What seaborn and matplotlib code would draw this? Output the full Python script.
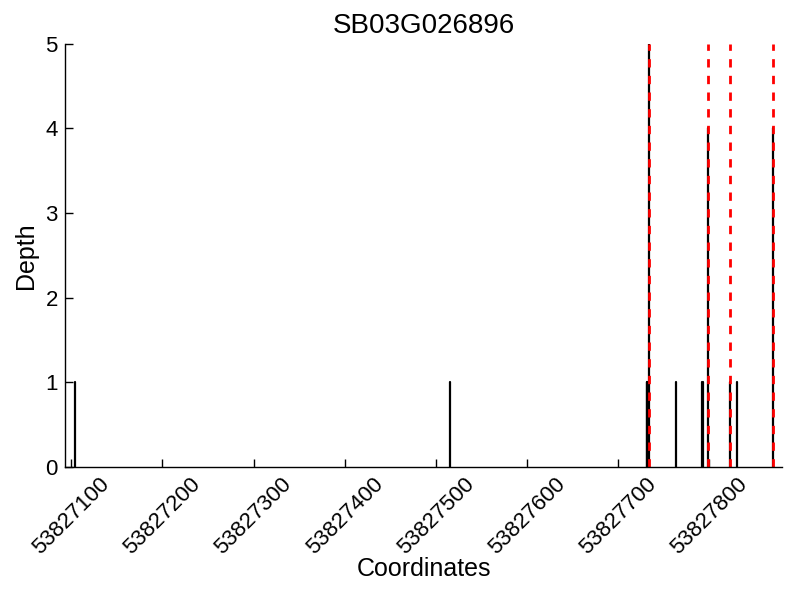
import matplotlib
matplotlib.use("Agg")
import matplotlib.pyplot as plt
import seaborn as sns
import numpy as np
import pandas as pd

# ---- data ----
title = "SB03G026896"
depth_positions = [53827104, 53827515, 53827731, 53827732, 53827734,
                   53827763, 53827792, 53827793, 53827798, 53827822,
                   53827830, 53827870]
depth_values = [1, 1, 1, 1, 5, 1, 1, 1, 4, 1, 1, 4]
snp_positions = [53827734, 53827798, 53827822, 53827870]
x_ticks = [53827100, 53827200, 53827300, 53827400, 53827500,
           53827600, 53827700, 53827800]
y_ticks = [0, 1, 2, 3, 4, 5]
x_range = (53827093, 53827880)
y_range = (0, 5)

sns.set_style("ticks", {"xtick.direction": "in", "ytick.direction": "in",
                        "text.color": "black", "axes.labelcolor": "black",
                        "xtick.color": "black", "ytick.color": "black"})
plt.rcParams["font.family"] = ["Liberation Sans", "DejaVu Sans"]

depth_df = pd.DataFrame({
    "pos": np.repeat(depth_positions, 2),
    "depth": np.ravel([[0, d] for d in depth_values]),
    "unit": np.repeat(np.arange(len(depth_positions)), 2),
})
snp_df = pd.DataFrame({
    "pos": np.repeat(snp_positions, 2),
    "depth": np.ravel([[y_range[0], y_range[1]] for _ in snp_positions]),
    "unit": np.repeat(np.arange(len(snp_positions)), 2),
})

fig = plt.figure(figsize=(8, 6), dpi=100)
ax = fig.add_axes([0.081, 0.222, 0.897, 0.705])

sns.lineplot(data=depth_df, x="pos", y="depth", units="unit", estimator=None,
             sort=False, color="black", linewidth=1.6, legend=False, ax=ax)
sns.lineplot(data=snp_df, x="pos", y="depth", units="unit", estimator=None,
             sort=False, color="red", linewidth=2, linestyle=(0, (3, 3)),
             legend=False, ax=ax)

ax.set_xlim(*x_range)
ax.set_ylim(*y_range)
ax.set_xticks(x_ticks)
ax.set_xticklabels([str(t) for t in x_ticks], rotation=45, ha="center")
ax.set_yticks(y_ticks)
ax.tick_params(axis="both", direction="in", length=5.5, width=1,
               labelsize=16, pad=5, color="black", labelcolor="black")
for s in ["top", "right"]:
    ax.spines[s].set_visible(False)
for s in ["left", "bottom"]:
    ax.spines[s].set_color("black")
    ax.spines[s].set_linewidth(1)

ax.set_title(title, fontsize=20, pad=8, color="black")
ax.set_xlabel("Coordinates", fontsize=18, color="black", labelpad=-1)
ax.set_ylabel("Depth", fontsize=18, color="black", labelpad=5)

fig.savefig("out.png", dpi=100)
